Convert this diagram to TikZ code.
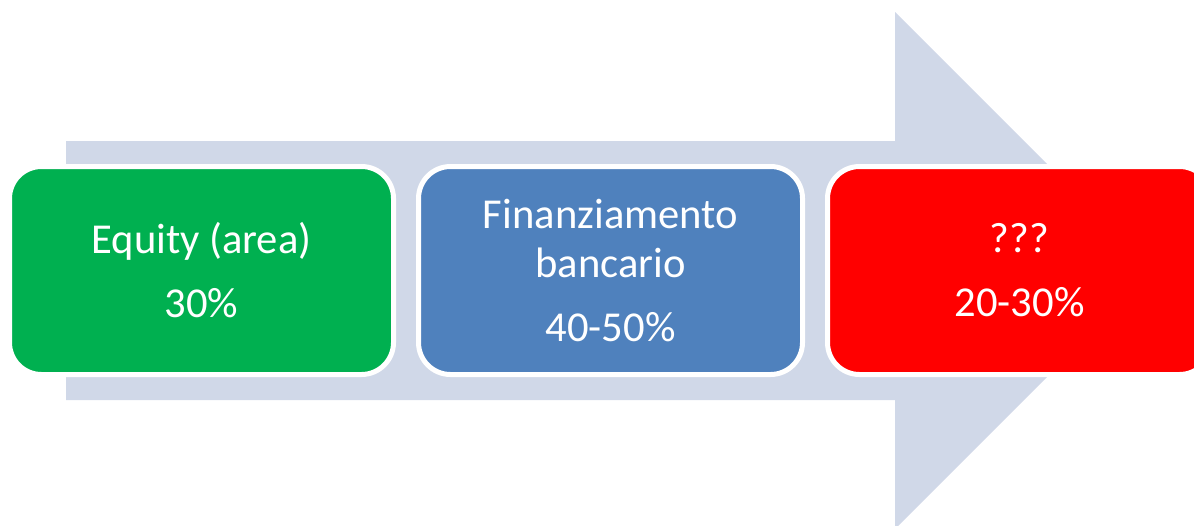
\documentclass[tikz,border=0pt]{standalone}
\usepackage{fontspec}
\setmainfont{Carlito}
\usetikzlibrary{positioning}
\definecolor{arrowfill}{HTML}{D0D8E8}
\definecolor{boxgreen}{HTML}{00B050}
\definecolor{boxblue}{HTML}{4F81BD}
\definecolor{boxred}{HTML}{FF0000}
\begin{document}
\begin{tikzpicture}[x=0.5pt,y=-0.5pt,node distance=12.5pt,
  box/.style={draw=white, line width=2.5pt, rounded corners=16pt, outer sep=0pt,
    minimum width=192pt, minimum height=104pt, text=white, align=center,
    font=\fontsize{21.3}{24.5}\selectfont}]
\def\GAP{7.5pt}
\useasboundingbox (0,0) rectangle (1194,525);
\clip (0,0) rectangle (1194,525);
% big arrow behind the boxes
\fill[color=arrowfill] (66,141)--(895,141)--(895,12)--(1153.5,270.5)--(895,529)--(895,400)--(66,400)--cycle;
\node[box, fill=boxgreen] (equity) at (201.5,270.5) {Equity (area)\\[\GAP]30\%};
\node[box, fill=boxblue, right=of equity] (bank) {Finanziamento\\bancario\\[\GAP]40-50\%};
\node[box, fill=boxred, right=of bank] (unknown) {???\\[\GAP]20-30\%};
\end{tikzpicture}
\end{document}
